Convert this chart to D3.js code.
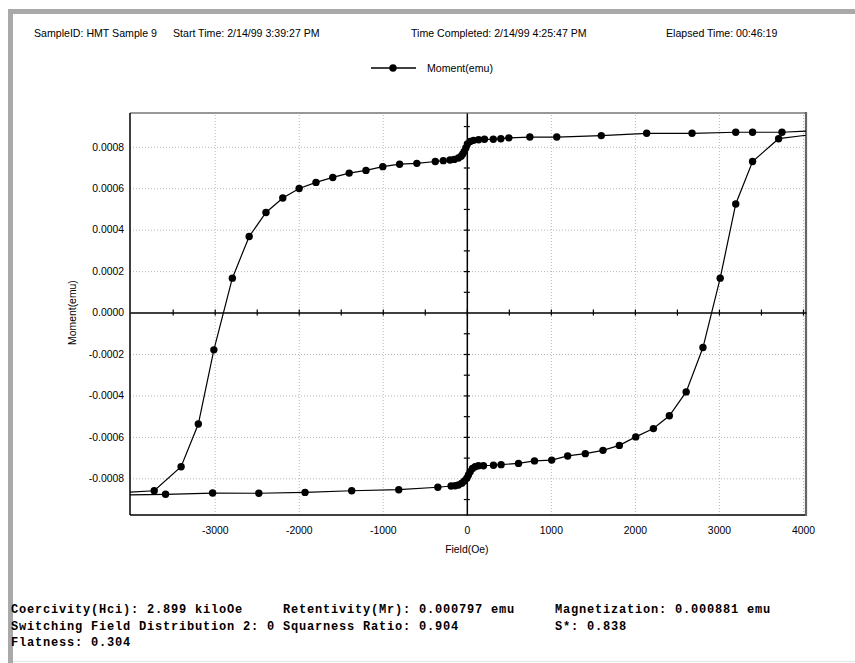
<!DOCTYPE html>
<html>
<head>
<meta charset="utf-8">
<script src="https://cdn.jsdelivr.net/npm/d3@7"></script>
<style>
  body { margin: 0; background: #fff; }
  text { font-family: "Liberation Sans", Arial, sans-serif; fill: #000; }
  .grid line { stroke: #b8b8b8; stroke-dasharray: 1,2; }
  .grid path { display: none; }
  .stats text { font-family: "Liberation Mono", "Courier New", monospace; font-weight: bold; font-size: 12px; letter-spacing: 0.8px; }
</style>
</head>
<body>
<svg id="canvas" width="855" height="663"></svg>
<script>
//hysteresis loop of HMT Sample 9
//descending branch (field going from + to -)
var fieldDown = [4300, 3750, 3400, 3200, 2680, 2140, 1600, 1070, 750, 500,
  405, 315, 210, 140, 80, 40, 7, -12, -30, -48,
  -68, -100, -150, -200, -280, -375, -595, -800, -1000, -1200,
  -1400, -1595, -1795, -1995, -2190, -2390, -2590, -2790, -3010, -3195,
  -3400, -3720, -4300];
var momentDown = [0.000880, 0.000870, 0.000870, 0.000870, 0.000865, 0.000865, 0.000854, 0.000847, 0.000847, 0.000843,
  0.000839, 0.000836, 0.000836, 0.000834, 0.000831, 0.000826, 0.000814, 0.000794, 0.000778, 0.000765,
  0.000754, 0.000746, 0.000739, 0.000736, 0.000733, 0.000729, 0.000720, 0.000716, 0.000704, 0.000686,
  0.000673, 0.000652, 0.000628, 0.000599, 0.000553, 0.000483, 0.000367, 0.000166, -0.000180, -0.000538,
  -0.000744, -0.000860, -0.000874];

//ascending branch (field going from - to +)
var fieldUp = [-4300, -3585, -3025, -2475, -1925, -1370, -810, -345, -187, -139,
  -100, -60, -29, 0, 19, 40, 67, 99, 138, 198,
  317, 408, 615, 805, 1010, 1200, 1410, 1620, 1815, 2010,
  2220, 2410, 2610, 2810, 3015, 3200, 3400, 3710, 4300];
var momentUp = [-0.000882, -0.000877, -0.000871, -0.000872, -0.000868, -0.000860, -0.000855, -0.000843, -0.000837, -0.000836,
  -0.000832, -0.000824, -0.000813, -0.000800, -0.000784, -0.000768, -0.000752, -0.000744, -0.000739, -0.000739,
  -0.000737, -0.000734, -0.000728, -0.000716, -0.000712, -0.000692, -0.000681, -0.000665, -0.000641, -0.000600,
  -0.000560, -0.000498, -0.000383, -0.000169, 0.000166, 0.000524, 0.000729, 0.000839, 0.000869];

//tick labels and grid
var xLabels = [-3000, -2000, -1000, 0, 1000, 2000, 3000, 4000];
var xMinor = d3.range(-3500, 4001, 500);
var yLabels = [-0.0008, -0.0006, -0.0004, -0.0002, 0, 0.0002, 0.0004, 0.0006, 0.0008];
var yMinor = [-0.0009, -0.0008, -0.0007, -0.0006, -0.0005, -0.0004, -0.0003, -0.0002, -0.0001,
  0.0001, 0.0002, 0.0003, 0.0004, 0.0005, 0.0006, 0.0007, 0.0008, 0.0009];

//header and footer texts
var headerTexts = ['SampleID: HMT Sample 9', 'Start Time: 2/14/99 3:39:27 PM',
  'Time Completed: 2/14/99 4:25:47 PM', 'Elapsed Time:  00:46:19'];
var statRows = [
  ['Coercivity(Hci): 2.899 kiloOe', 'Retentivity(Mr): 0.000797 emu', 'Magnetization: 0.000881 emu'],
  ['Switching Field Distribution 2: 0', 'Squarness Ratio: 0.904', 'S*: 0.838'],
  ['Flatness: 0.304']
];

var canvas = d3.select('#canvas');
var width = +canvas.attr('width');
var height = +canvas.attr('height');

//plot area
var plot = { 'left': 130, 'right': 806, 'top': 113, 'bottom': 515 };

var xScale = d3.scaleLinear()
  .domain([-4008, 4036])
  .range([plot.left, plot.right]);

var yScale = d3.scaleLinear()
  .domain([-0.000977, 0.000963])
  .range([plot.bottom, plot.top]);

//gray page frame
canvas.append('rect').attr('x', 8).attr('y', 9).attr('width', width - 8).attr('height', 5).style('fill', '#a9a9a9');
canvas.append('rect').attr('x', 8).attr('y', 9).attr('width', 5).attr('height', height - 9).style('fill', '#a9a9a9');
canvas.append('line').attr('x1', 13).attr('x2', width).attr('y1', height - 1.5).attr('y2', height - 1.5)
  .style('stroke', '#e6e6e6').style('stroke-width', 1);

//header line
var headerX = [34, 173, 411, 666];
canvas.selectAll('.hdr')
  .data(headerTexts)
  .enter()
  .append('text')
  .attr('x', function(d, i) { return headerX[i]; })
  .attr('y', 37)
  .style('font-size', '10.6px')
  .text(function(d) { return d; });

//legend
var legend = canvas.append('g').attr('transform', 'translate(371,68)');
legend.append('line').attr('x1', 0).attr('x2', 45).attr('y1', 0).attr('y2', 0)
  .style('stroke', '#000').style('stroke-width', 1.3);
legend.append('circle').attr('cx', 22).attr('cy', 0).attr('r', 3.7).style('fill', '#000');
legend.append('text').attr('x', 56).attr('y', 4).style('font-size', '10.6px').text('Moment(emu)');

//grid lines
canvas.append('g')
  .attr('class', 'grid')
  .attr('transform', 'translate(0,' + plot.bottom + ')')
  .call(d3.axisBottom(xScale).tickValues(xLabels.filter(function(d) { return d !== 0; }))
    .tickSize(-(plot.bottom - plot.top)).tickFormat(''));

canvas.append('g')
  .attr('class', 'grid')
  .attr('transform', 'translate(' + plot.left + ',0)')
  .call(d3.axisLeft(yScale).tickValues(yLabels.filter(function(d) { return d !== 0; }))
    .tickSize(-(plot.right - plot.left)).tickFormat(''));

//plot frame
canvas.append('line').attr('x1', plot.left).attr('x2', plot.right).attr('y1', plot.top).attr('y2', plot.top)
  .style('stroke', '#333').style('stroke-width', 1.2);
canvas.append('line').attr('x1', plot.left).attr('x2', plot.left).attr('y1', plot.top).attr('y2', plot.bottom)
  .style('stroke', '#000').style('stroke-width', 1.5);
canvas.append('line').attr('x1', plot.left).attr('x2', plot.right).attr('y1', plot.bottom).attr('y2', plot.bottom)
  .style('stroke', '#000').style('stroke-width', 1.5);
canvas.append('line').attr('x1', plot.right).attr('x2', plot.right).attr('y1', plot.top - 1).attr('y2', plot.bottom + 1)
  .style('stroke', '#666').style('stroke-width', 2.2);

//zero axes with crossing ticks
var y0 = yScale(0);
var x0 = xScale(0);

function styleAxis(g) {
  g.selectAll('line').style('stroke', '#000').style('stroke-width', 1.2);
  g.selectAll('path').style('stroke', '#000').style('stroke-width', 1.5);
}

canvas.append('g')
  .attr('transform', 'translate(0,' + y0 + ')')
  .call(d3.axisBottom(xScale).tickValues(xMinor).tickSize(3).tickSizeOuter(0).tickFormat(''))
  .call(styleAxis);
canvas.append('g')
  .attr('transform', 'translate(0,' + y0 + ')')
  .call(d3.axisTop(xScale).tickValues(xMinor).tickSize(3).tickSizeOuter(0).tickFormat(''))
  .call(styleAxis)
  .select('.domain').remove();

canvas.append('g')
  .attr('transform', 'translate(' + x0 + ',0)')
  .call(d3.axisLeft(yScale).tickValues(yMinor).tickSize(3).tickSizeOuter(0).tickFormat(''))
  .call(styleAxis);
canvas.append('g')
  .attr('transform', 'translate(' + x0 + ',0)')
  .call(d3.axisRight(yScale).tickValues(yMinor).tickSize(3).tickSizeOuter(0).tickFormat(''))
  .call(styleAxis)
  .select('.domain').remove();

//tick labels
var xAxis = canvas.append('g')
  .attr('transform', 'translate(0,' + plot.bottom + ')')
  .call(d3.axisBottom(xScale).tickValues(xLabels).tickSize(0).tickPadding(12)
    .tickFormat(function(d) { return String(d); }));
xAxis.select('.domain').remove();
xAxis.selectAll('text').style('font-size', '10.4px').style('font-family', '"Liberation Sans", Arial, sans-serif');

var yAxis = canvas.append('g')
  .attr('transform', 'translate(' + plot.left + ',0)')
  .call(d3.axisLeft(yScale).tickValues(yLabels).tickSize(0).tickPadding(6)
    .tickFormat(function(d) { return d.toFixed(4); }));
yAxis.select('.domain').remove();
yAxis.selectAll('text').style('font-size', '10.4px').style('font-family', '"Liberation Sans", Arial, sans-serif');

//axis titles
canvas.append('text')
  .attr('x', x0).attr('y', 553)
  .attr('text-anchor', 'middle')
  .style('font-size', '10.4px')
  .text('Field(Oe)');

canvas.append('text')
  .attr('transform', 'translate(76,' + y0 + ') rotate(-90)')
  .attr('text-anchor', 'middle')
  .style('font-size', '10.4px')
  .text('Moment(emu)');

//the loop itself, clipped to the plot area
canvas.append('clipPath').attr('id', 'clip')
  .append('rect')
  .attr('x', plot.left).attr('y', plot.top)
  .attr('width', plot.right - plot.left).attr('height', plot.bottom - plot.top);

var branches = [
  fieldDown.map(function(f, i) { return { 'x': f, 'y': momentDown[i] }; }),
  fieldUp.map(function(f, i) { return { 'x': f, 'y': momentUp[i] }; })
];

var line = d3.line()
  .x(function(d) { return xScale(d.x); })
  .y(function(d) { return yScale(d.y); });

var loop = canvas.append('g').attr('clip-path', 'url(#clip)');

loop.selectAll('path.branch')
  .data(branches)
  .enter()
  .append('path')
  .attr('class', 'branch')
  .attr('d', line)
  .style('fill', 'none')
  .style('stroke', '#000')
  .style('stroke-width', 1.2);

loop.selectAll('circle')
  .data(branches[0].concat(branches[1]))
  .enter()
  .append('circle')
  .attr('cx', function(d) { return xScale(d.x); })
  .attr('cy', function(d) { return yScale(d.y); })
  .attr('r', 3.7)
  .style('fill', '#000');

//statistics block, fixed columns of the monospace printout
var colX = [11, 283, 555];
var stats = canvas.append('g').attr('class', 'stats');
statRows.forEach(function(row, r) {
  stats.selectAll('.r' + r)
    .data(row)
    .enter()
    .append('text')
    .attr('x', function(d, i) { return colX[i]; })
    .attr('y', 613 + r * 16.5)
    .text(function(d) { return d; });
});
</script>
</body>
</html>
